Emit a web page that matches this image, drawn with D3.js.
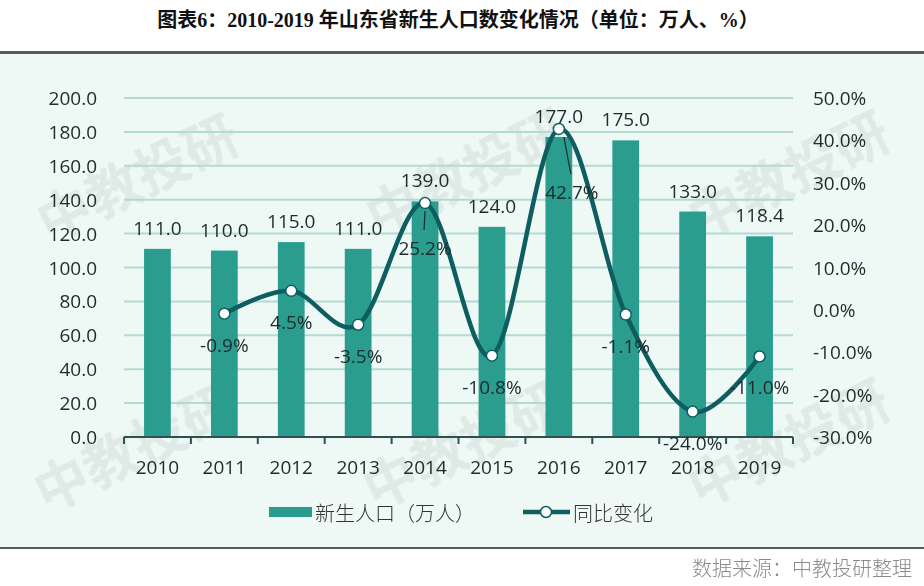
<!DOCTYPE html>
<html>
<head>
<meta charset="utf-8">
<script src="https://cdn.jsdelivr.net/npm/d3@7"></script>
<style>
  body { margin: 0; background: #fff; }
  svg { display: block; }
</style>
</head>
<body>
<svg id="chart"></svg>
<script>
// chart data
const years = ["2010", "2011", "2012", "2013", "2014", "2015", "2016", "2017", "2018", "2019"];
const births = [111.0, 110.0, 115.0, 111.0, 139.0, 124.0, 177.0, 175.0, 133.0, 118.4];
const yoy = [null, -0.9, 4.5, -3.5, 25.2, -10.8, 42.7, -1.1, -24.0, -11.0];
const leftTicks = [0, 20, 40, 60, 80, 100, 120, 140, 160, 180, 200];
const rightTicks = [-30, -20, -10, 0, 10, 20, 30, 40, 50];
const titleText = "图表6：2010-2019 年山东省新生人口数变化情况（单位：万人、%）";
const legendNames = ["新生人口（万人）", "同比变化"];
const sourceText = "数据来源：中教投研整理";

const width = 924, height = 586;
const barColor = "#2b9d8f", lineColor = "#0e5d60", gridColor = "#b3dbd2";
const numFont = "'Open Sans', 'DejaVu Sans', sans-serif";
const cjkFont = "'Noto Sans CJK SC', sans-serif";
// plain hyphen minus like the original
const fmt1 = v => d3.format(".1f")(v).replace("\u2212", "-");

const svg = d3.select("#chart")
  .attr("width", width)
  .attr("height", height);

// panel background + rules
svg.append("rect").attr("x", 0).attr("y", 53).attr("width", width).attr("height", 495)
  .attr("fill", "#eef9f5");
svg.append("line").attr("x1", 0).attr("x2", width).attr("y1", 52.5).attr("y2", 52.5)
  .attr("stroke", "#5a5a5a").attr("stroke-width", 3);
svg.append("line").attr("x1", 0).attr("x2", width).attr("y1", 548).attr("y2", 548)
  .attr("stroke", "#5a5a5a").attr("stroke-width", 2);

// title
svg.append("text")
  .attr("x", 458).attr("y", 20)
  .attr("text-anchor", "middle").attr("dominant-baseline", "central")
  .attr("font-family", "'Liberation Serif', 'Noto Sans CJK SC', serif")
  .attr("font-weight", "bold").attr("font-size", 20).attr("fill", "#111")
  .text(titleText);

// watermarks
const wm = svg.append("g").attr("font-family", cjkFont).attr("font-weight", "bold")
  .attr("font-size", 54).attr("fill", "#b9bfbd").attr("opacity", 0.27)
  .attr("text-anchor", "middle").attr("dominant-baseline", "central");
[[136, 175], [465, 170], [787, 172], [133, 445], [462, 442], [787, 440]].forEach(p => {
  wm.append("text").attr("transform", `translate(${p[0]},${p[1]}) rotate(-26)`).text("中教投研");
});

// scales
const x = d3.scaleBand().domain(years).range([124, 793]).paddingInner(0.6).paddingOuter(0.3);
const yL = d3.scaleLinear().domain([0, 200]).range([437, 98]);
const yR = d3.scaleLinear().domain([-30, 50]).range([437, 98]);

// grid
svg.append("g").selectAll("line")
  .data(leftTicks.filter(d => d > 0))
  .join("line")
    .attr("x1", 124).attr("x2", 793)
    .attr("y1", d => yL(d)).attr("y2", d => yL(d))
    .attr("stroke", gridColor).attr("stroke-width", 2);

// left axis labels
svg.append("g").selectAll("text")
  .data(leftTicks)
  .join("text")
    .attr("x", 97).attr("y", d => yL(d))
    .attr("text-anchor", "end").attr("dominant-baseline", "central")
    .attr("font-family", numFont).attr("font-size", 19).attr("fill", "#1c2b2b")
    .text(d => fmt1(d));

// right axis labels
svg.append("g").selectAll("text")
  .data(rightTicks)
  .join("text")
    .attr("x", 813).attr("y", d => yR(d))
    .attr("text-anchor", "start").attr("dominant-baseline", "central")
    .attr("font-family", numFont).attr("font-size", 19).attr("fill", "#1c2b2b")
    .text(d => fmt1(d) + "%");

// bars
svg.append("g").selectAll("rect")
  .data(births)
  .join("rect")
    .attr("x", (d, i) => x(years[i]))
    .attr("width", x.bandwidth())
    .attr("y", d => yL(d))
    .attr("height", d => yL(0) - yL(d))
    .attr("fill", barColor);

// bar labels
svg.append("g").selectAll("text")
  .data(births)
  .join("text")
    .attr("x", (d, i) => x(years[i]) + x.bandwidth() / 2)
    .attr("y", d => yL(d) - 21)
    .attr("text-anchor", "middle").attr("dominant-baseline", "central")
    .attr("font-family", numFont).attr("font-size", 19).attr("fill", "#1c2b2b")
    .text(d => fmt1(d));

// x axis
const xAxis = svg.append("g");
xAxis.append("line").attr("x1", 124).attr("x2", 793).attr("y1", 437).attr("y2", 437)
  .attr("stroke", "#2f4f50").attr("stroke-width", 2);
xAxis.selectAll("line.tick")
  .data(d3.range(years.length + 1))
  .join("line").attr("class", "tick")
    .attr("x1", i => 124 + i * x.step()).attr("x2", i => 124 + i * x.step())
    .attr("y1", 437).attr("y2", 444)
    .attr("stroke", "#2f4f50").attr("stroke-width", 2);
xAxis.selectAll("text")
  .data(years)
  .join("text")
    .attr("x", d => x(d) + x.bandwidth() / 2).attr("y", 467)
    .attr("text-anchor", "middle").attr("dominant-baseline", "central")
    .attr("font-family", numFont).attr("font-size", 19).attr("fill", "#1c2b2b")
    .text(d => d);

// yoy line
const pts = yoy.map((v, i) => ({ year: years[i], v: v })).filter(d => d.v !== null);
const line = d3.line()
  .x(d => x(d.year) + x.bandwidth() / 2)
  .y(d => yR(d.v))
  .curve(d3.curveCardinal.tension(0));
svg.append("path")
  .datum(pts)
  .attr("d", line)
  .attr("fill", "none").attr("stroke", lineColor).attr("stroke-width", 4.5)
  .attr("stroke-linejoin", "round");

svg.append("g").selectAll("circle")
  .data(pts)
  .join("circle")
    .attr("cx", d => x(d.year) + x.bandwidth() / 2)
    .attr("cy", d => yR(d.v))
    .attr("r", 5.5)
    .attr("fill", "#fff").attr("stroke", lineColor).attr("stroke-width", 1.5);

// line labels (a couple were dragged away with leader lines)
const labelShift = { "2014": [0, 45], "2016": [13, 63] };
pts.forEach(d => {
  const cx = x(d.year) + x.bandwidth() / 2, cy = yR(d.v);
  const s = labelShift[d.year] || [0, 31];
  if (labelShift[d.year]) {
    svg.append("line")
      .attr("x1", cx + (d.year === "2016" ? 5 : 0)).attr("y1", cy + 8)
      .attr("x2", cx + s[0] - 1).attr("y2", cy + s[1] - 18)
      .attr("stroke", "#1c2b2b").attr("stroke-width", 1.2);
  }
  svg.append("text")
    .attr("x", cx + s[0]).attr("y", cy + s[1])
    .attr("text-anchor", "middle").attr("dominant-baseline", "central")
    .attr("font-family", numFont).attr("font-size", 19).attr("fill", "#1c2b2b")
    .text(fmt1(d.v) + "%");
});

// legend
const lg = svg.append("g");
lg.append("rect").attr("x", 269).attr("y", 507).attr("width", 43).attr("height", 10).attr("fill", barColor);
lg.append("text").attr("x", 315).attr("y", 512)
  .attr("dominant-baseline", "central")
  .attr("font-family", cjkFont).attr("font-weight", 300).attr("font-size", 20).attr("fill", "#333")
  .text(legendNames[0]);
lg.append("line").attr("x1", 523).attr("x2", 570).attr("y1", 512).attr("y2", 512)
  .attr("stroke", lineColor).attr("stroke-width", 4.5);
lg.append("circle").attr("cx", 546).attr("cy", 512).attr("r", 5.5)
  .attr("fill", "#fff").attr("stroke", lineColor).attr("stroke-width", 1.5);
lg.append("text").attr("x", 573).attr("y", 512)
  .attr("dominant-baseline", "central")
  .attr("font-family", cjkFont).attr("font-weight", 300).attr("font-size", 20).attr("fill", "#333")
  .text(legendNames[1]);

// source
svg.append("text")
  .attr("x", 912).attr("y", 567)
  .attr("text-anchor", "end").attr("dominant-baseline", "central")
  .attr("font-family", cjkFont).attr("font-weight", 300).attr("font-size", 20).attr("fill", "#8a8a8a")
  .text(sourceText);
</script>
</body>
</html>
